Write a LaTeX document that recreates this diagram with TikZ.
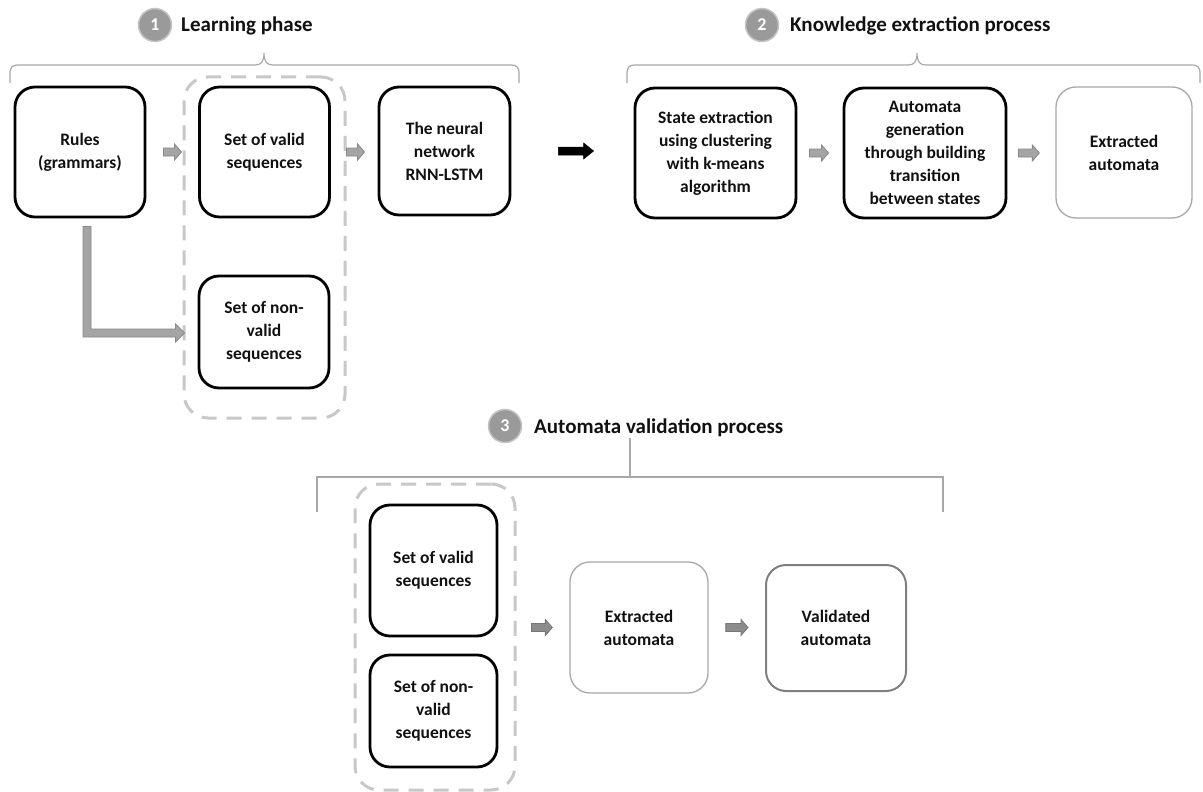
\documentclass[tikz,border=0pt]{standalone}
\usepackage{fontspec}
\setmainfont{Carlito}
\usetikzlibrary{calc}
\definecolor{dashgray}{HTML}{C8C8C8}
\definecolor{bracegray}{HTML}{A8A8A8}
\definecolor{arrfill}{HTML}{A5A5A5}
\definecolor{arrdraw}{HTML}{888888}
\definecolor{arrfillB}{HTML}{8C8C8C}
\definecolor{arrdrawB}{HTML}{777777}
\definecolor{circfill}{HTML}{9A9A9A}
\definecolor{circdraw}{HTML}{C4C4C4}
\definecolor{thingray}{HTML}{A8A8A8}
\definecolor{midgray}{HTML}{808080}
\definecolor{txt}{HTML}{111111}
% #1 style, #2 start, #3 tip, #4 shaft half, #5 head half, #6 head length
\newcommand\blockarr[6]{\filldraw[#1] let \p1=(#2), \p2=(#3) in
  (\x1,{\y1+#4}) -- ({\x2-#6},{\y1+#4}) -- ({\x2-#6},{\y1+#5}) -- (\x2,\y1)
  -- ({\x2-#6},{\y1-#5}) -- ({\x2-#6},{\y1-#4}) -- (\x1,{\y1-#4}) -- cycle;}
\begin{document}
\begin{tikzpicture}[x=1pt,y=-1pt,
  box/.style={draw=black, line width=2.8pt, rounded corners=20pt, align=center,
    font=\fontsize{17.5}{23}\selectfont\bfseries, text=txt, inner sep=3pt},
  thinbox/.style={box, draw=thingray, line width=1.3pt},
  midbox/.style={box, draw=midgray, line width=2pt},
  dashbox/.style={draw=dashgray, line width=3pt, rounded corners=24pt,
    dash pattern=on 15pt off 10pt, inner sep=0pt},
  brace/.style={draw=bracegray, line width=1.2pt},
  circ/.style={circle, fill=circfill, draw=circdraw, line width=1.5pt,
    minimum size=33pt, inner sep=0pt, text=white, font=\fontsize{18}{18}\selectfont\bfseries},
  head/.style={anchor=base west, inner sep=0pt, text=txt,
    font=\fontsize{21}{21}\selectfont\bfseries},
  garrow/.style={fill=arrfill, draw=arrdraw, line width=0.8pt},
  garrowB/.style={fill=arrfillB, draw=arrdrawB, line width=0.8pt},
  karrow/.style={fill=black, draw=black, line width=0.5pt},
  larrow/.style={fill=arrfill, draw=arrdraw, line width=0.8pt}]
\useasboundingbox (0,0) rectangle (1203,792);

% ---------- Section 1 ----------
\node[circ] (c1) at (155,25) {1};
\node[head] (h1) at (181,32) {Learning phase};
\draw[brace] (10,83) -- (10,74) .. controls (10,67) and (12,65) .. (19,65) -- (255,65)
  .. controls (261,65) and (264,62) .. (264,53) .. controls (264,62) and (267,65) .. (273,65)
  -- (510,65) .. controls (517,65) and (519,67) .. (519,74) -- (519,83);

\node[dashbox, minimum width=161pt, minimum height=341pt] (dashA) at (264.5,247.5) {};
\node[box, minimum width=130pt, minimum height=130pt] (rules) at (80,152) {Rules\\(grammars)};
\node[box, minimum width=130pt, minimum height=130pt] (validA) at (264.5,152) {Set of valid\\sequences};
\node[box, minimum width=130pt, minimum height=112pt] (nonvA) at (264,332) {Set of non-\\valid\\sequences};
\node[box, minimum width=131pt, minimum height=128pt] (neural) at (444.5,151) {The neural\\network\\RNN-LSTM};

\blockarr{garrow}{$(rules.east)+(17,0)$}{$(dashA.west |- rules.east)+(-1,0)$}{4pt}{8pt}{7pt}
\blockarr{garrow}{dashA.east |- validA.east}{$(neural.west |- validA.east)+(-13,0)$}{4pt}{8pt}{7pt}

\filldraw[larrow] let \p1=(rules.south), \p2=(nonvA.west) in
  ({\x1+3pt},{\y1-8pt}) -- ({\x1+11pt},{\y1-8pt}) -- ({\x1+11pt},{\y2+3pt})
  -- ({\x2-22pt},{\y2+3pt}) -- ({\x2-22pt},{\y2+8pt}) -- ({\x2-13pt},{\y2-1pt})
  -- ({\x2-22pt},{\y2-10pt}) -- ({\x2-22pt},{\y2-5pt}) -- ({\x1+3pt},{\y2-5pt}) -- cycle;

% ---------- Section 2 ----------
\node[circ] (c2) at (762,25) {2};
\node[head] (h2) at (790,32) {Knowledge extraction process};
\draw[brace] (627,83) -- (627,74) .. controls (627,67) and (629,65) .. (636,65) -- (908,65)
  .. controls (914,65) and (917,62) .. (917,53) .. controls (917,62) and (920,65) .. (926,65)
  -- (1191,65) .. controls (1198,65) and (1200,67) .. (1200,74) -- (1200,83);

\node[box, minimum width=161pt, minimum height=130pt] (state) at (715.5,153) {State extraction\\using clustering\\with k-means\\algorithm};
\node[box, minimum width=162pt, minimum height=130pt] (autogen) at (925,153) {Automata\\generation\\through building\\transition\\between states};
\node[thinbox, minimum width=136pt, minimum height=131pt] (extrA) at (1124,152.5) {Extracted\\automata};

\blockarr{karrow}{$(neural.east)+(47,0)$}{$(state.west |- neural.east)+(-40,0)$}{4pt}{8pt}{10pt}
\blockarr{garrow}{$(state.east)+(12,0)$}{$(autogen.west |- state.east)+(-14,0)$}{4pt}{8pt}{7pt}
\blockarr{garrow}{$(autogen.east)+(11,0)$}{$(extrA.west |- autogen.east)+(-16,0)$}{4pt}{8pt}{7pt}

% ---------- Section 3 ----------
\node[circ] (c3) at (505,426) {3};
\node[head] (h3) at (534,433) {Automata validation process};
\draw[brace] (317,512) -- (317,477) -- (943,477) -- (943,512);
\draw[brace] (630,477) -- (630,438);

\node[dashbox, minimum width=160pt, minimum height=306pt] (dashB) at (435,637) {};
\node[box, minimum width=127pt, minimum height=131pt] (validB) at (433.5,570.5) {Set of valid\\sequences};
\node[box, minimum width=127pt, minimum height=112pt] (nonvB) at (433.5,711) {Set of non-\\valid\\sequences};
\node[thinbox, minimum width=138pt, minimum height=131pt] (extrB) at (639,627.5) {Extracted\\automata};
\node[midbox, minimum width=140pt, minimum height=126pt] (valid3) at (836,628) {Validated\\automata};

\blockarr{garrowB}{$(dashB.east |- extrB.west)+(15,0)$}{$(extrB.west)+(-17,0)$}{4pt}{8pt}{7pt}
\blockarr{garrowB}{$(extrB.east)+(17,0)$}{$(valid3.west |- extrB.east)+(-17,0)$}{4pt}{8pt}{7pt}
\end{tikzpicture}
\end{document}
